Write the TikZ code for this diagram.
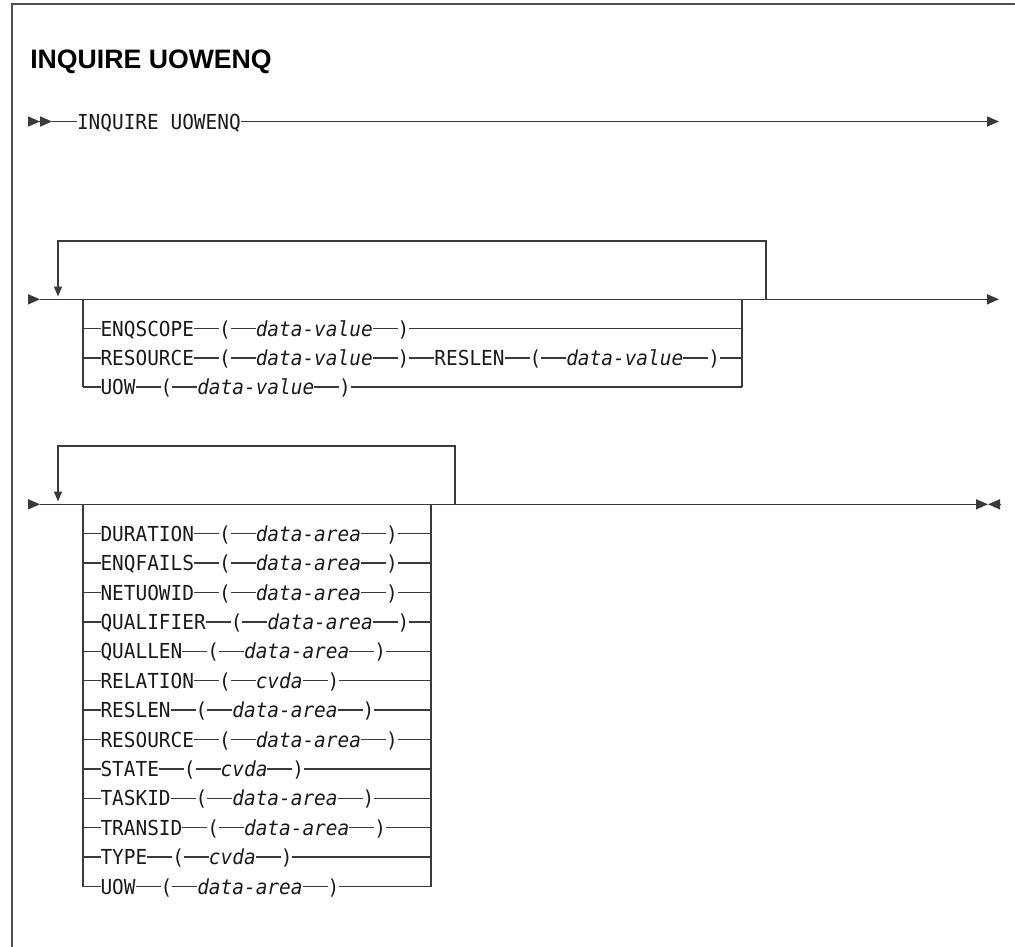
\documentclass[tikz,border=0pt]{standalone}
\usepackage{fontspec}
\setmainfont{Liberation Sans}
\newfontfamily\diagmono{DejaVu Sans Mono}[ItalicFont={DejaVu Sans Mono Oblique}, FakeStretch=0.94]
\usepackage{tikz}
\usetikzlibrary{positioning, arrows.meta}
\definecolor{diagline}{HTML}{3A3A3A}
\definecolor{diagframe}{HTML}{505050}
\definecolor{diagtext}{HTML}{1A1A1A}

\tikzset{
  kw/.style={inner sep=0pt, outer sep=0pt, text height=11.3pt, text depth=0pt,
    text=diagtext, font={\diagmono\fontsize{15.5pt}{18pt}\selectfont}},
  var/.style={kw, font={\diagmono\itshape\fontsize{15.5pt}{18pt}\selectfont}},
  rail/.style={draw=diagline, line width=1.15pt},
  railend/.style={rail, -{Triangle[length=9pt,width=7.5pt]}},
  loopend/.style={rail, -{Triangle[length=7.5pt,width=6pt]}},
}

\begin{document}
\begin{tikzpicture}[x=0.75pt, y=-0.75pt, node distance=18.75pt]
        \useasboundingbox (0,0) rectangle (1015,947);
        % frame and title
        \draw[diagframe, line width=1.15pt] (12,947) -- (12,4) -- (1015,4);
        \node[anchor=base west, inner sep=0pt, font=\bfseries\fontsize{20pt}{23pt}\selectfont] (title) at (30,68) {INQUIRE UOWENQ};

        % first line
        \coordinate (s0) at (28,121.5); \coordinate (s0a) at (52,121.5); \coordinate (e0) at (999,121.5);
        \node[kw, anchor=west] (inq) at (77,121.5) {INQUIRE UOWENQ};
        \draw[rail, -{Triangle[length=9pt,width=7.5pt] Triangle[length=9pt,width=7.5pt]}] (s0) -- (s0a);
        \draw[rail] (s0a) -- (inq);
        \draw[railend] (inq) -- (e0);

        % repeatable group: ENQSCOPE / RESOURCE / UOW
        \coordinate (g1s) at (28,299.3); \coordinate (g1a) at (40,299.3); \coordinate (g1e) at (999,299.3);
        \coordinate (b1l) at (83,299.3); \coordinate (b1r) at (742,299.3);
        \coordinate (l1r) at (766,299.3); \coordinate (l1t) at (58,241); \coordinate (l1a) at (58,296.5);
        \draw[railend] (g1s) -- (g1a);
        \draw[railend] (g1a) -- (g1e);
        \draw[loopend] (l1r) -- (l1r |- l1t) -- (l1t) -- (l1a);
        \foreach \k [count=\i] in {ENQSCOPE, RESOURCE, UOW}{
          \node[kw, anchor=west] (g1k\i) at (100.5,{299.3+29.3*\i}) {\k};
          \node[kw, right=of g1k\i] (g1o\i) {(};
          \node[var, right=of g1o\i] (g1v\i) {data-value};
          \node[kw, right=of g1v\i] (g1c\i) {)};
          \draw[rail] (b1l |- g1k\i) -- (g1k\i) -- (g1o\i) -- (g1v\i) -- (g1c\i);
        }
        \node[kw, right=of g1c2] (rlk) {RESLEN};
        \node[kw, right=of rlk] (rlo) {(};
        \node[var, right=of rlo] (rlv) {data-value};
        \node[kw, right=of rlv] (rlc) {)};
        \draw[rail] (g1c2) -- (rlk) -- (rlo) -- (rlv) -- (rlc) -- (b1r |- rlc);
        \draw[rail] (g1c1) -- (b1r |- g1c1);
        \draw[rail] (g1c3) -- (b1r |- g1c3);
        \draw[rail] (b1l) -- (b1l |- g1k3);
        \draw[rail] (b1r) -- (b1r |- g1k3);

        % repeatable group: returned options
        \coordinate (g2s) at (28,504.3); \coordinate (g2a) at (40,504.3);
        \coordinate (g2e) at (988,504.3); \coordinate (g2f) at (1000.7,504.3);
        \coordinate (b2l) at (83,504.3); \coordinate (b2r) at (431,504.3);
        \coordinate (l2r) at (455,504.3); \coordinate (l2t) at (58,446); \coordinate (l2a) at (58,501.5);
        \draw[railend] (g2s) -- (g2a);
        \draw[railend] (g2a) -- (g2e);
        \draw[railend] (g2f) -- (g2e);
        \draw[loopend] (l2r) -- (l2r |- l2t) -- (l2t) -- (l2a);
        \foreach \k/\v [count=\i] in {DURATION/data-area, ENQFAILS/data-area, NETUOWID/data-area,
            QUALIFIER/data-area, QUALLEN/data-area, RELATION/cvda, RESLEN/data-area,
            RESOURCE/data-area, STATE/cvda, TASKID/data-area, TRANSID/data-area,
            TYPE/cvda, UOW/data-area}{
          \node[kw, anchor=west] (g2k\i) at (100.5,{504.3+29.4*\i}) {\k};
          \node[kw, right=of g2k\i] (g2o\i) {(};
          \node[var, right=of g2o\i] (g2v\i) {\v};
          \node[kw, right=of g2v\i] (g2c\i) {)};
          \draw[rail] (b2l |- g2k\i) -- (g2k\i) -- (g2o\i) -- (g2v\i) -- (g2c\i) -- (b2r |- g2c\i);
        }
        \draw[rail] (b2l) -- (b2l |- g2k13);
        \draw[rail] (b2r) -- (b2r |- g2k13);
      \end{tikzpicture}
\end{document}
